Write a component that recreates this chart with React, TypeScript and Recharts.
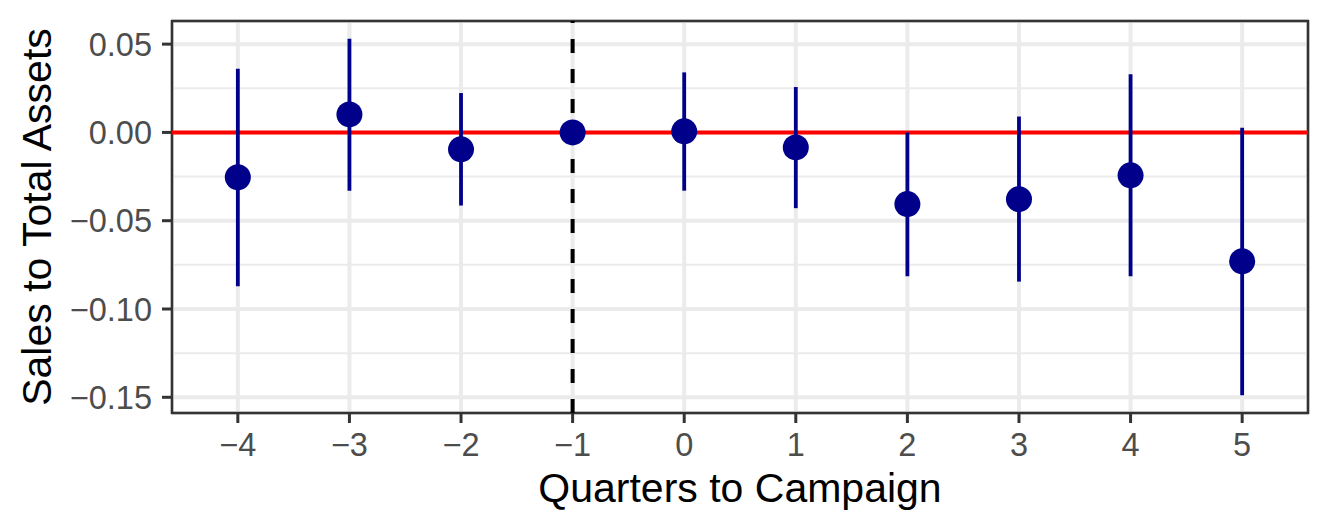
import React from "react";
import {
  ComposedChart,
  Scatter,
  ErrorBar,
  XAxis,
  YAxis,
  CartesianGrid,
  ReferenceLine,
  ReferenceArea,
} from "recharts";

const quarters = [-4, -3, -2, -1, 0, 1, 2, 3, 4, 5];
const estimates = [-0.0254, 0.0102, -0.0096, 0, 0.0006, -0.0085, -0.0406, -0.0378, -0.0243, -0.073];
const lowerCI = [-0.0871, -0.033, -0.0414, 0, -0.033, -0.0429, -0.0815, -0.0845, -0.0815, -0.1488];
const upperCI = [0.0361, 0.053, 0.0223, 0, 0.034, 0.0257, 0.0, 0.009, 0.0329, 0.0026];

const xTicks = [-4, -3, -2, -1, 0, 1, 2, 3, 4, 5];
const yTicks = [0.05, 0, -0.05, -0.1, -0.15];
const yMinor = [0.025, -0.025, -0.075, -0.125];
const xDomain = [-4.59, 5.59];
const yDomain = [-0.1589, 0.0631];
const campaignStart = -1;

const data = quarters.map((q, i) => ({
  x: q,
  y: estimates[i],
  err: [estimates[i] - lowerCI[i], upperCI[i] - estimates[i]],
}));

const FONT = '"Liberation Sans", Arial, Helvetica, sans-serif';
const NAVY = "#00008B";
const TICK_FS = 32.5;
const TITLE_FS = 41;

const fmtY = (v: number) => (v < 0 ? "\u2212" : "") + Math.abs(v).toFixed(2);
const fmtX = (v: number) => (v < 0 ? "\u2212" + Math.abs(v) : String(v));

export default function App() {
  return (
    <div style={{ width: 1329, height: 532, background: "#fff" }}>
      <style>{`body{margin:0;background:#fff}`}</style>
      <ComposedChart
        width={1329}
        height={532}
        data={data}
        margin={{ top: 21, right: 21, bottom: 0, left: 0 }}
      >
        <CartesianGrid horizontal={false} stroke="#EBEBEB" strokeWidth={4} />
        <CartesianGrid
          vertical={false}
          horizontalValues={yMinor}
          stroke="#EBEBEB"
          strokeWidth={2}
        />
        <CartesianGrid vertical={false} stroke="#EBEBEB" strokeWidth={4} />
        <XAxis
          dataKey="x"
          type="number"
          domain={xDomain}
          ticks={xTicks}
          tickFormatter={fmtX}
          allowDataOverflow
          height={119}
          axisLine={false}
          tickSize={10}
          tickMargin={10}
          tickLine={{ stroke: "#333333", strokeWidth: 3 }}
          tick={{ fontSize: TICK_FS, fill: "#4D4D4D", fontFamily: FONT }}
          label={{
            content: ({ viewBox }: any) => (
              <text
                x={viewBox.x + viewBox.width / 2}
                y={502}
                textAnchor="middle"
                fontSize={TITLE_FS}
                fontFamily={FONT}
                fill="#000"
              >
                Quarters to Campaign
              </text>
            ),
          }}
        />
        <YAxis
          dataKey="y"
          type="number"
          domain={yDomain}
          ticks={yTicks}
          tickFormatter={fmtY}
          allowDataOverflow
          width={172}
          axisLine={false}
          tickSize={10}
          tickMargin={10}
          tickLine={{ stroke: "#333333", strokeWidth: 3 }}
          tick={{ fontSize: TICK_FS, fill: "#4D4D4D", fontFamily: FONT }}
          label={{
            content: ({ viewBox }: any) => {
              const cy = viewBox.y + viewBox.height / 2;
              return (
                <text
                  x={51}
                  y={cy}
                  transform={`rotate(-90, 51, ${cy})`}
                  textAnchor="middle"
                  fontSize={TITLE_FS}
                  fontFamily={FONT}
                  fill="#000"
                >
                  Sales to Total Assets
                </text>
              );
            },
          }}
        />
        <ReferenceLine y={0} stroke="#FF0000" strokeWidth={4} />
        <Scatter data={data} isAnimationActive={false} shape={() => <g />}>
          <ErrorBar
            dataKey="err"
            direction="y"
            width={0}
            stroke={NAVY}
            strokeWidth={3.8}
            isAnimationActive={false}
          />
        </Scatter>
        <Scatter
          data={data}
          isAnimationActive={false}
          shape={(p: any) => <circle cx={p.cx} cy={p.cy} r={13} fill={NAVY} />}
        />
        <ReferenceLine
          x={campaignStart}
          stroke="#000000"
          strokeWidth={4}
          strokeDasharray="14 16"
        />
        <ReferenceArea
          x1={xDomain[0]}
          x2={xDomain[1]}
          y1={yDomain[0]}
          y2={yDomain[1]}
          fill="none"
          fillOpacity={0}
          stroke="#333333"
          strokeWidth={2.5}
          strokeOpacity={1}
          ifOverflow="visible"
        />
      </ComposedChart>
    </div>
  );
}
